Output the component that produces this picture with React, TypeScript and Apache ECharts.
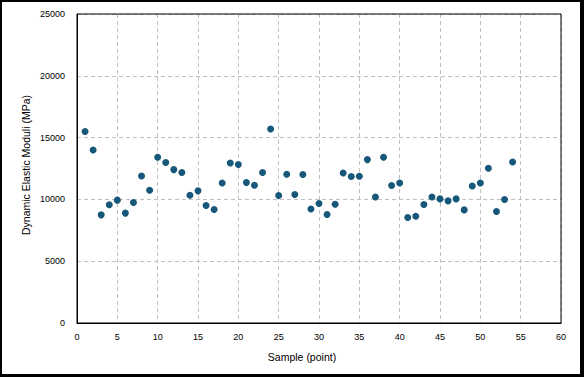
import React, { useEffect, useRef } from "react";
import * as echarts from "echarts";

const samples: number[] = Array.from({ length: 54 }, (_, i) => i + 1);
const moduli: number[] = [
  15500, 14000, 8750, 9560, 9940, 8890, 9750, 11900, 10740, 13410,
  12980, 12410, 12170, 10340, 10690, 9500, 9180, 11330, 12950, 12820,
  11360, 11150, 12170, 15700, 10310, 12040, 10390, 12010, 9230, 9670,
  8780, 9610, 12140, 11850, 11870, 13220, 10200, 13410, 11120, 11330,
  8540, 8640, 9590, 10200, 10040, 9880, 10040, 9150, 11090, 11330,
  12520, 9020, 9990, 13030,
];
const xTicks = { min: 0, max: 60, interval: 5 };
const yTicks = { min: 0, max: 25000, interval: 5000 };
const xName = "Sample (point)";
const yName = "Dynamic Elastic Moduli (MPa)";

export default function App() {
  const ref = useRef<HTMLDivElement>(null);
  useEffect(() => {
    document.body.style.margin = "0";
    if (!ref.current) return;
    const chart = echarts.init(ref.current, undefined, { renderer: "svg" });
    const font = "Arial, 'Liberation Sans', sans-serif";
    chart.setOption({
      animation: false,
      backgroundColor: "#ffffff",
      grid: {
        left: 77,
        top: 14,
        right: 23,
        bottom: 54,
        show: true,
        borderColor: "#000",
        borderWidth: 1,
        backgroundColor: "transparent",
        z: 5,
      },
      xAxis: {
        type: "value",
        min: xTicks.min,
        max: xTicks.max,
        interval: xTicks.interval,
        axisLine: { show: true, lineStyle: { color: "#000", width: 1 } },
        axisTick: { show: false },
        axisLabel: { color: "#000", fontSize: 9, fontFamily: font, margin: 9, formatter: (v: number) => String(v) },
        splitLine: { show: true, lineStyle: { color: "#c0c0c0", type: [4, 3], width: 1 } },
      },
      yAxis: {
        type: "value",
        min: yTicks.min,
        max: yTicks.max,
        interval: yTicks.interval,
        axisLine: { show: true, lineStyle: { color: "#000", width: 1 } },
        axisTick: { show: false },
        axisLabel: { color: "#000", fontSize: 9, fontFamily: font, margin: 12, formatter: (v: number) => String(v) },
        splitLine: { show: true, lineStyle: { color: "#c0c0c0", type: [4, 3], width: 1 } },
      },
      graphic: [
        {
          type: "text",
          x: 302,
          y: 357,
          style: {
            text: xName,
            fill: "#000",
            font: `10.5px ${font}`,
            textAlign: "center",
            textVerticalAlign: "middle",
          },
        },
        {
          type: "text",
          x: 25.5,
          y: 165,
          rotation: Math.PI / 2,
          style: {
            text: yName,
            fill: "#000",
            font: `10.5px ${font}`,
            textAlign: "center",
            textVerticalAlign: "middle",
          },
        },
      ],
      series: [
        {
          type: "scatter",
          data: samples.map((s, i) => [s, moduli[i]]),
          symbol: "circle",
          symbolSize: 7,
          itemStyle: { color: "#17587A", opacity: 1 },
        },
      ],
    });
    return () => chart.dispose();
  }, []);
  return (
    <div style={{ position: "relative", width: 584, height: 377 }}>
      <div ref={ref} style={{ width: 584, height: 377 }} />
      <div
        style={{
          position: "absolute",
          left: 0,
          top: 0,
          width: 584,
          height: 377,
          boxSizing: "border-box",
          borderLeft: "2px solid #000",
          borderTop: "2px solid #000",
          borderRight: "4px solid #000",
          borderBottom: "3px solid #000",
          pointerEvents: "none",
        }}
      />
    </div>
  );
}
